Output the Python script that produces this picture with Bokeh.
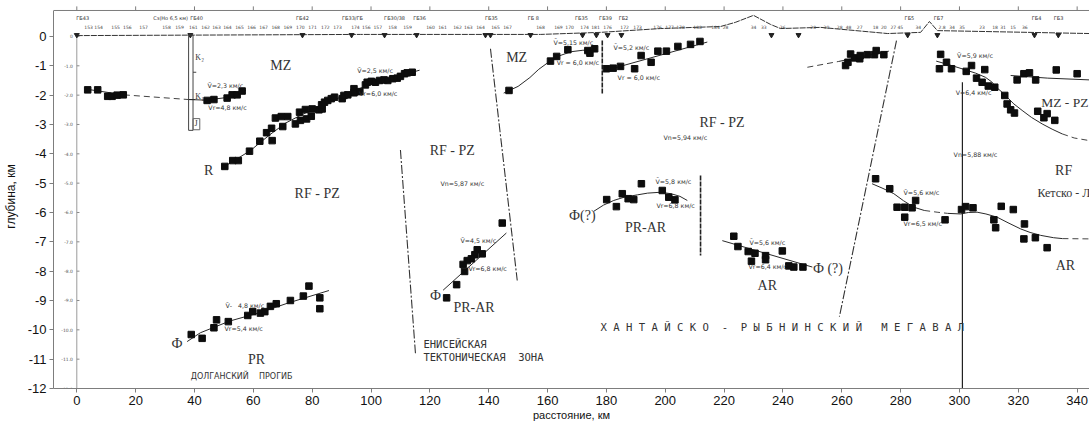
from bokeh.plotting import figure
from bokeh.models import FixedTicker, Range1d
from bokeh.core.properties import value
from bokeh.embed import file_html
from bokeh.resources import INLINE

NB = "\u00a0"

# ---------------- axes ----------------
x_ticks = [0, 20, 40, 60, 80, 100, 120, 140, 160, 180, 200, 220, 240, 260, 280, 300, 320, 340]
y_ticks = [0, -1, -2, -3, -4, -5, -6, -7, -8, -9, -10, -11, -12]
X0, X1 = -7.92, 344.2
Y0, YTOP, Y1 = -12.0, 0.886, 1.09

# ---------------- observation points (km, depth km) ----------------
g1_x = [3.7, 7.1, 10.5, 12.0, 13.7, 15.8]
g1_y = [-1.82, -1.82, -2.04, -2.04, -2.00, -1.99]
g2_x = [44.3, 46.6, 51.1, 52.8, 54.5, 56.2]
g2_y = [-2.18, -2.15, -2.10, -1.99, -1.99, -1.86]
g3_x = [50.3, 53.0, 54.9, 58.7, 62.2, 64.5, 66.2, 66.4, 67.5, 69.5, 70.0, 71.7, 74.3, 76.0, 75.7,
        77.7, 78.1, 80.0, 79.7, 82.3, 83.4, 83.2, 84.2, 85.3, 86.5, 87.6, 90.2, 90.8, 92.1, 94.2,
        94.2, 96.2, 98.1, 98.7, 100.1, 101.5, 102.9, 104.4, 105.7, 107.4, 108.9, 110.0, 111.4, 112.3, 114.0]
g3_y = [-4.43, -4.23, -4.23, -3.91, -3.57, -3.28, -3.13, -3.55, -2.78, -2.73, -3.07, -2.73, -2.98, -2.86, -2.58,
        -2.49, -2.81, -2.47, -2.72, -2.50, -2.47, -2.33, -2.24, -2.18, -2.12, -2.07, -2.12, -2.01, -1.99, -1.78,
        -1.92, -1.88, -1.65, -1.56, -1.53, -1.56, -1.50, -1.48, -1.50, -1.44, -1.42, -1.36, -1.27, -1.24, -1.22]
g4_x = [38.9, 42.6, 46.6, 47.5, 51.5, 58.1, 59.8, 62.4, 63.9, 65.8, 67.8, 72.6, 77.0, 78.9, 82.6, 82.6]
g4_y = [-10.16, -10.29, -9.93, -9.66, -9.72, -9.51, -9.38, -9.43, -9.38, -9.20, -9.11, -9.00, -8.85, -8.51, -8.91, -9.28]
g5_x = [144.6, 136.1, 135.3, 137.8, 134.1, 132.7, 131.3, 131.8, 129.1, 125.7]
g5_y = [-6.36, -7.27, -7.44, -7.41, -7.58, -7.64, -7.77, -8.01, -8.46, -8.91]
g6_x = [146.9, 161.0, 163.1, 166.9, 173.7, 174.4, 176.0]
g6_y = [-1.84, -0.84, -0.68, -0.45, -0.48, -0.57, -0.42]
g7_x = [180.0, 182.3, 184.8, 189.6, 191.8, 195.2, 197.5, 200.4, 204.3, 208.6, 211.8]
g7_y = [-1.10, -1.08, -1.02, -1.10, -0.65, -0.88, -0.50, -0.50, -0.34, -0.27, -0.17]
g8_x = [180.1, 183.4, 185.4, 187.4, 189.3, 191.9, 199.0, 201.2, 203.3]
g8_y = [-5.56, -5.80, -5.36, -5.53, -5.56, -5.02, -5.25, -5.48, -5.57]
g9_x = [223.3, 224.7, 228.2, 230.5, 229.3, 234.1, 234.1, 239.8, 242.0, 243.7, 246.8]
g9_y = [-6.81, -7.16, -7.33, -7.39, -7.66, -7.47, -7.61, -7.31, -7.82, -7.86, -7.86]
g10_x = [261.3, 263.0, 264.4, 266.1, 266.3, 268.7, 271.1, 271.7, 274.3, 262.1]
g10_y = [-0.99, -0.60, -0.73, -0.76, -0.65, -0.62, -0.62, -0.48, -0.62, -0.88]
g11_x = [293.6, 295.6, 293.2, 297.3, 304.1, 302.3, 308.6, 305.8, 307.7, 309.8, 312.0, 315.4, 316.2, 317.4,
         318.7, 326.6, 328.7, 329.8, 332.4]
g11_y = [-0.61, -0.88, -1.10, -1.10, -0.99, -1.19, -1.13, -1.42, -1.56, -1.69, -1.73, -2.01, -2.30, -2.50,
         -2.61, -2.55, -2.77, -2.63, -2.86]
g12_x = [319.6, 321.9, 323.8, 325.9, 332.9, 340.0]
g12_y = [-1.48, -1.27, -1.24, -1.48, -1.14, -1.27]
g13_x = [271.5, 276.3, 278.8, 281.4, 283.9, 285.1, 281.4, 295.1, 300.7, 302.1, 304.6, 311.7, 312.3, 314.2,
         318.3, 322.1, 321.9, 325.8, 329.8]
g13_y = [-4.85, -5.19, -5.82, -5.82, -5.84, -5.59, -6.16, -6.25, -5.90, -5.80, -5.84, -6.25, -6.52, -5.79,
         -5.90, -6.39, -6.90, -6.86, -7.20]

pts_x = [g1_x, g2_x, g3_x, g4_x, g5_x, g6_x, g7_x, g8_x, g9_x, g10_x, g11_x, g12_x, g13_x]
pts_y = [g1_y, g2_y, g3_y, g4_y, g5_y, g6_y, g7_y, g8_y, g9_y, g10_y, g11_y, g12_y, g13_y]

# ---------------- fitted boundary curves ----------------
cA_x = [3.5, 16.0]; cA_y = [-1.80, -1.99]
cAd_x = [16.0, 38.0]; cAd_y = [-1.99, -2.15]
cB_x = [38.0, 44.0, 51.0, 57.5]; cB_y = [-2.15, -2.17, -2.08, -1.83]
cC_x = [49.4, 54.0, 59.0, 62.5, 66.0, 71.0, 76.0, 81.0, 86.0, 91.0, 95.3, 101.0, 106.6, 111.0, 116.5]
cC_y = [-4.48, -4.20, -3.89, -3.60, -3.32, -2.95, -2.69, -2.45, -2.24, -2.00, -1.80, -1.60, -1.44, -1.30, -1.15]
cD_x = [37.5, 42.0, 52.0, 62.0, 72.0, 85.7]; cD_y = [-10.40, -10.10, -9.70, -9.42, -9.08, -8.66]
cE_x = [124.5, 146.0]; cE_y = [-8.65, -6.70]
cF_x = [145.1, 150.0, 154.0, 157.0, 160.0, 164.0, 168.0, 172.0, 176.9]
cF_y = [-1.93, -1.70, -1.40, -1.12, -0.90, -0.66, -0.52, -0.47, -0.45]
cG_x = [179.7, 214.3]; cG_y = [-1.16, -0.19]
cH_x = [259.0, 276.0]; cH_y = [-0.85, -0.50]
cHd_x = [248.3, 259.0]; cHd_y = [-1.05, -0.85]
cI_x = [175.7, 179.0, 182.5, 186.0, 190.5, 194.0, 198.4, 202.0, 205.0, 207.5]
cI_y = [-5.96, -5.75, -5.59, -5.48, -5.40, -5.34, -5.31, -5.36, -5.45, -5.59]
cJ_x = [219.4, 250.0]; cJ_y = [-6.96, -7.86]
cK_x = [292.1, 297.0, 302.1, 305.5, 308.8, 311.0, 312.5, 314.5, 316.2, 318.5, 321.3, 324.5, 328.1, 331.5, 334.9]
cK_y = [-0.84, -0.98, -1.14, -1.25, -1.39, -1.55, -1.73, -1.90, -2.07, -2.30, -2.52, -2.76, -2.98, -3.16, -3.32]
cKd_x = [334.9, 339.0, 344.2]; cKd_y = [-3.32, -3.46, -3.55]
cL_x = [317.4, 330.0, 344.2]; cL_y = [-1.33, -1.42, -1.48]
cM_x = [270.3, 274.0, 277.7, 281.0, 284.5, 288.0]
cM_y = [-5.02, -5.18, -5.36, -5.60, -5.82, -5.93]
cMd_x = [288.0, 292.4, 296.0]; cMd_y = [-5.93, -5.99, -6.03]
cN_x = [296.0, 300.4, 303.0, 306.0, 309.0, 312.8, 316.5, 320.8, 324.0, 327.6, 332.0, 335.0]
cN_y = [-6.03, -6.05, -6.00, -5.99, -6.05, -6.16, -6.35, -6.56, -6.68, -6.78, -6.86, -6.89]
cNd_x = [335.0, 344.2]; cNd_y = [-6.89, -6.90]

# ---------------- faults / zone boundaries ----------------
f1_x = [110.0, 115.1]; f1_y = [-3.87, -10.80]
f2_x = [140.6, 149.7]; f2_y = [-0.42, -8.32]
f3_x = [178.6, 178.6]; f3_y = [-0.14, -1.94]
f4_x = [212.0, 212.0]; f4_y = [-4.74, -7.47]
f5_x = [278.6, 259.2]; f5_y = [-0.14, -9.55]
v1_x = [301.0, 301.0]; v1_y = [-1.56, -12.0]

# ---------------- surface profile + stations ----------------
prof_x = [0, 96.4, 157.6, 178.0, 198.4, 218.8, 223.8, 230.0, 235.8, 239.2, 252.8, 275.6, 286.8, 289.8, 292.5, 344.2]
prof_y = [0.03, 0.07, 0.07, 0.14, 0.27, 0.34, 0.48, 0.72, 0.41, 0.27, 0.31, 0.10, 0.14, 0.51, 0.20, 0.10]
tri_x = [0.0, 38.6, 76.7, 93.4, 104.6, 115.5, 138.9, 140.6, 154.2, 171.9, 176.6, 180.4, 185.1, 236.1, 245.3, 282.4, 292.5, 325.5, 333.6]
st1_lbl = ["ГБ43", "Сз(Hо 6,5 км)", "ГБ40", "ГБ42", "ГБ33/ГБ", "ГБ30/38", "ГБ36", "ГБ35", "ГБ 8", "ГБ35",
           "ГБ39", "ГБ2", "ГБ5", "ГБ7", "ГБ4", "ГБ3"]
st1_x = [2.0, 31.9, 40.7, 76.7, 93.7, 108.0, 116.5, 140.9, 155.2, 171.5, 179.7, 185.8, 283.0, 292.9, 326.2, 333.7]
st2_lbl = ["153", "154", "155", "156", "157", "158", "159", "161", "162", "163", "164", "165", "166", "167",
           "168", "169", "170", "171", "172", "173", "174", "156", "157", "158", "159", "160", "161", "162",
           "163", "164", "165", "167", "168", "169", "170", "174", "181", "176", "172", "173", "176", "177",
           "178", "180", "184", "28", "34", "33", "36", "28", "30", "28", "48", "27", "18", "20", "27", "45",
           "34", "2.8", "34", "35", "23", "18", "31", "15", "36"]
st2_x = [4.0, 7.4, 13.2, 17.2, 22.7, 30.5, 34.9, 39.6, 43.8, 47.5, 51.2, 55.3, 59.4, 63.5,
         67.6, 71.7, 76.0, 80.1, 84.5, 88.6, 94.7, 98.4, 102.3, 107.3, 112.4, 120.2, 124.3, 129.4,
         133.1, 137.2, 142.3, 146.4, 157.6, 163.7, 167.5, 172.6, 176.3, 180.4, 186.2, 190.6, 197.4, 201.5,
         205.2, 211.0, 217.1, 220.5, 230.0, 233.5, 239.9, 250.3, 254.8, 259.3, 262.3, 266.1, 271.5, 274.3, 277.5, 279.9,
         286.0, 294.1, 297.5, 300.9, 307.7, 312.1, 314.8, 318.2, 322.2]

# ---------------- text annotations ----------------
big_lbl = ["MZ", "R", "RF - PZ", "Ф", "PR", "RF - PZ", "Ф", "PR-AR", "MZ", "Ф(?)", "PR-AR", "RF - PZ",
           "AR", "Ф (?)", "RF", "AR"]
big_x = [69.3, 44.8, 81.7, 34.1, 61.1, 127.6, 121.9, 135.0, 149.5, 171.8, 193.3, 219.3,
         234.7, 255.3, 335.4, 336.0]
big_y = [-1.00, -4.57, -5.36, -10.48, -11.00, -3.89, -8.83, -9.24, -0.70, -6.10, -6.52, -2.92,
         -8.50, -7.91, -4.57, -7.80]
left_lbl = ["MZ - PZ", "Кетско - Л"]
left_x = [327.8, 326.5]
left_y = [-2.24, -5.35]

vel_lbl = ["V\u0304=2,3 км/с", "Vr=4,8 км/с", "V\u0304=2,5 км/с", "Vr=6,0 км/с", "V\u0304=5,15 км/с",
           "Vr = 6,0 км/с", "V\u0304=5,2 км/с", "Vr = 6,0 км/с", "Vn=5,94 км/с", "Vn=5,87 км/с",
           "V\u0304=4,5 км/с", "Vr=6,8 км/с", "V\u0304=5,8 км/с", "Vr=6,8 км/с", "V\u0304-" + NB * 3 + "4,8 км/с",
           "Vr=5,4 км/с", "V\u0304=5,6 км/с", "Vr=6,4 км/с", "V\u0304=5,6 км/с", "Vr=6,5 км/с",
           "V\u0304=5,9 км/с", "V=6,4 км/с", "Vn=5,88 км/с"]
vel_x = [44.4, 44.7, 95.3, 95.9, 162.0, 163.1, 182.4, 183.8, 199.4, 123.6,
         130.4, 133.1, 196.7, 197.0, 50.5, 50.2, 228.6, 228.3, 281.0, 281.0,
         299.2, 298.7, 298.0]
vel_y = [-1.67, -2.41, -1.16, -1.95, -0.19, -0.90, -0.36, -1.39, -3.43, -5.02,
         -6.96, -7.90, -4.93, -5.76, -9.17, -9.94, -7.01, -7.84, -5.31, -6.39,
         -0.65, -1.90, -4.02]

region_lbl = ["ДОЛГАНСКИЙ" + NB * 4 + "ПРОГИБ", "ЕНИСЕЙСКАЯ", "ТЕКТОНИЧЕСКАЯ" + NB * 2 + "ЗОНА",
              "Х А Н Т А Й С К О" + NB * 2 + "-" + NB * 2 + "Р Ы Б Н И Н С К И Й" + NB * 3 + "М Е Г А В А Л"]
region_x = [38.7, 117.8, 117.8, 178.0]
region_y = [-11.60, -10.48, -10.91, -9.91]

well_lbl = ["K\u2082", "K\u2081", "J"]
well_lx = [40.3, 40.3, 40.0]
well_ly = [-0.70, -2.05, -2.98]

inner_lbl = ["0", "-1.0", "-2.0", "-3.0", "-4.0", "-5.0", "-6.0", "-7.0", "-8.0", "-9.0", "-10.0", "-11.0", "-12.0"]
inner_y = [0, -1, -2, -3, -4, -5, -6, -7, -8, -9, -10, -11, -12]

# ---------------- figure ----------------
GREY = "#7d7d7d"
p = figure(width=1089, height=425, output_backend="svg", toolbar_location=None,
           x_range=Range1d(X0, X1), y_range=Range1d(Y0, Y1),
           min_border_left=53, min_border_right=0, min_border_top=4, min_border_bottom=37)
p.grid.visible = False
p.outline_line_color = None
p.background_fill_color = "white"

for ax in (p.xaxis[0], p.yaxis[0]):
    ax.axis_line_color = GREY
    ax.major_tick_line_color = GREY
    ax.minor_tick_line_color = None
    ax.major_tick_in = 0
    ax.major_tick_out = 4
    ax.major_label_text_font = "Liberation Sans"
    ax.major_label_text_font_size = "13px"
    ax.major_label_text_color = "#111111"
    ax.axis_label_text_font = "Liberation Sans"
    ax.axis_label_text_font_style = "normal"
    ax.axis_label_text_color = "#111111"

p.xaxis.ticker = FixedTicker(ticks=x_ticks)
p.yaxis.ticker = FixedTicker(ticks=y_ticks)
p.yaxis.bounds = (Y0, YTOP)
p.yaxis.major_label_overrides = {t: str(t) for t in y_ticks}
p.xaxis.axis_label = "расстояние, км"
p.yaxis.axis_label = "глубина, км"
p.xaxis.axis_label_text_font_size = "11px"
p.yaxis.axis_label_text_font_size = "12px"
p.xaxis.major_label_standoff = 3
p.xaxis.axis_label_standoff = 1
p.yaxis.major_label_standoff = 3
p.yaxis.axis_label_standoff = 7

# top frame line with outward ticks
p.line([X0, X1], [YTOP, YTOP], line_color=GREY, line_width=1)
p.segment(x0=x_ticks, y0=[YTOP] * len(x_ticks), x1=x_ticks, y1=[YTOP + 0.14] * len(x_ticks), line_color=GREY)

# inner scanned depth axis at km 0
p.line([0, 0], [0.05, -12], line_color="#9a9a9a", line_width=1)
p.segment(x0=[0] * len(inner_y), y0=inner_y, x1=[0.9] * len(inner_y), y1=inner_y, line_color="#8a8a8a")
p.text(x=[-1.3] * len(inner_y), y=inner_y, text=inner_lbl, text_align="right", text_baseline="middle",
       text_font=value("DejaVu Sans"), text_font_size="4.5px", text_color="#555555")

# surface profile
p.line(prof_x, prof_y, line_color="#333333", line_width=1, line_dash="6 1")
p.scatter(tri_x, [0.05] * len(tri_x), marker="inverted_triangle", size=5, color="#222222")
p.text(x=st1_x, y=[0.62] * len(st1_x), text=st1_lbl, text_align="center", text_baseline="middle",
       text_font=value("DejaVu Sans"), text_font_size="5px", text_color="#333333")
p.text(x=st2_x, y=[0.33] * len(st2_x), text=st2_lbl, text_align="center", text_baseline="middle",
       text_font=value("DejaVu Sans"), text_font_size="4.5px", text_color="#444444")

# well column
p.quad(left=[38.0], right=[39.5], top=[0.05], bottom=[-3.2], fill_color=None, line_color="#444444", line_width=1)
p.segment(x0=[39.5, 38.0], y0=[-1.22, -2.15], x1=[40.6, 40.2], y1=[-1.22, -2.15], line_color="#444444")
p.quad(left=[39.5], right=[41.8], top=[-2.8], bottom=[-3.18], fill_color=None, line_color="#666666")
p.text(x=well_lx, y=well_ly, text=well_lbl, text_align="left", text_baseline="middle",
       text_font=value("Liberation Serif"), text_font_size="8px", text_color="#333333")

# fitted lines
lw = 1.0
for cx, cy in [(cA_x, cA_y), (cB_x, cB_y), (cC_x, cC_y), (cD_x, cD_y), (cE_x, cE_y), (cF_x, cF_y),
               (cG_x, cG_y), (cH_x, cH_y), (cI_x, cI_y), (cJ_x, cJ_y), (cK_x, cK_y), (cL_x, cL_y),
               (cM_x, cM_y), (cN_x, cN_y)]:
    p.line(cx, cy, line_color="#2a2a2a", line_width=lw)
for cx, cy in [(cAd_x, cAd_y), (cHd_x, cHd_y), (cKd_x, cKd_y), (cMd_x, cMd_y), (cNd_x, cNd_y)]:
    p.line(cx, cy, line_color="#444444", line_width=lw, line_dash="6 4")

# faults
for fx, fy in [(f1_x, f1_y), (f2_x, f2_y), (f5_x, f5_y)]:
    p.line(fx, fy, line_color="#333333", line_width=1.1, line_dash="9 2 2 2")
for fx, fy in [(f3_x, f3_y), (f4_x, f4_y)]:
    p.line(fx, fy, line_color="#222222", line_width=1.6, line_dash="5 1")
p.line(v1_x, v1_y, line_color="#222222", line_width=1.2)

# points
for xs, ys in zip(pts_x, pts_y):
    p.scatter(xs, ys, marker="square", size=6.5, color="#0d0d0d")

# labels
p.text(x=big_x, y=big_y, text=big_lbl, text_align="center", text_baseline="middle",
       text_font=value("Liberation Serif"), text_font_size="14px", text_color="#333333")
p.text(x=left_x[:1], y=left_y[:1], text=left_lbl[:1], text_align="left", text_baseline="middle",
       text_font=value("Liberation Serif"), text_font_size="13.5px", text_color="#333333")
p.text(x=left_x[1:], y=left_y[1:], text=left_lbl[1:], text_align="left", text_baseline="middle",
       text_font=value("Liberation Serif"), text_font_size="12px", text_color="#333333")
p.text(x=vel_x, y=vel_y, text=vel_lbl, text_align="left", text_baseline="middle",
       text_font=value("DejaVu Sans"), text_font_size="6.3px", text_color="#333333")
p.text(x=region_x[:1], y=region_y[:1], text=region_lbl[:1], text_align="left", text_baseline="middle",
       text_font=value("DejaVu Sans"), text_font_size="8px", text_color="#333333")
p.text(x=region_x[1:3], y=region_y[1:3], text=region_lbl[1:3], text_align="left", text_baseline="middle",
       text_font=value("DejaVu Sans Mono"), text_font_size="10.5px", text_color="#333333")
p.text(x=region_x[3:], y=region_y[3:], text=region_lbl[3:], text_align="left", text_baseline="middle",
       text_font=value("DejaVu Sans Mono"), text_font_size="10.6px", text_color="#333333")

open("out.html", "w").write(file_html(p, INLINE))
